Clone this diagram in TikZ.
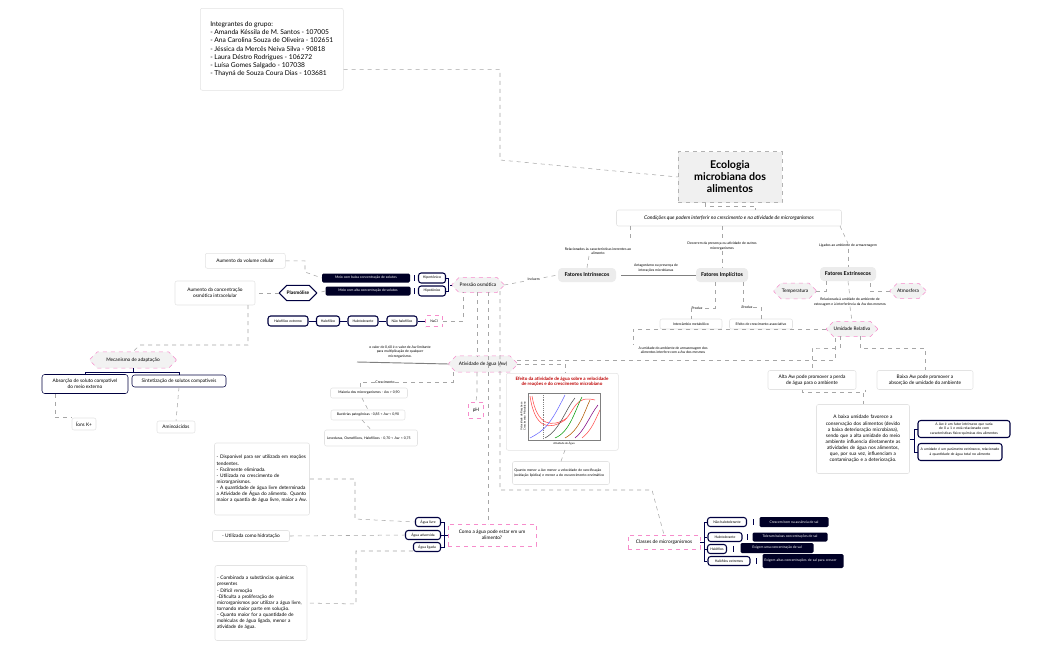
\documentclass[tikz,border=0pt]{standalone}
\usepackage{fontspec}
\setmainfont{Lato}
\usetikzlibrary{shapes.misc,calc}
\hyphenpenalty=10000
\begin{document}
\begin{tikzpicture}[x=0.75pt,y=-0.75pt,
 wh/.style 2 args={minimum width=#1*0.75pt,minimum height=#2*0.75pt},
 ft/.style={font=\fontsize{3.6pt}{4.6pt}\selectfont},
 fs/.style={font=\fontsize{2.6pt}{3.2pt}\selectfont},
 box/.style={draw=gray!22,fill=white,rounded corners=1.5pt,inner sep=1pt,align=center,ft},
 pk/.style={chamfered rectangle,chamfered rectangle xsep=2pt,draw=magenta!45,dashed,fill=gray!10,inner sep=1pt,ft},
 pkb/.style={draw=magenta!45,dashed,fill=white,inner sep=1pt,align=center,ft},
 fat/.style={fill=gray!15,rounded corners=3pt,inner sep=1pt,font=\fontsize{4pt}{5pt}\selectfont\bfseries},
 dk/.style={fill=black!85!blue,text=white,rounded corners=1pt,inner sep=1pt,align=center,fs},
 ol/.style={draw=black!75!blue,thick,rounded corners=2pt,fill=white,inner sep=1pt,align=center,fs},
 lb/.style={fs,align=center,fill=white,inner sep=0.5pt},
 c/.style={draw=gray!70,dashed,line width=0.4pt},
 s/.style={draw=black!70!blue,line width=0.5pt}]
\useasboundingbox (0,0) rectangle (1050,650);
\fill[white] (0,0) rectangle (1050,650);
% members and title
\node[box,wh={143}{82},anchor=north west,align=left,font=\rmfamily\fontsize{5pt}{6.2pt}\selectfont,inner sep=2.5pt] (mem) at (200,8) {Integrantes do grupo:\\- Amanda Késsila de M. Santos - 107005\\- Ana Carolina Souza de Oliveira - 102651\\- Jéssica da Mercês Neiva Silva - 90818\\- Laura Déstro Rodrigues - 106272\\- Luísa Gomes Salgado - 107038\\- Thayná de Souza Coura Dias - 103681};
\node[draw=gray!60,dashed,fill=gray!12,wh={104}{51},align=center,font=\rmfamily\bfseries\fontsize{8pt}{9pt}\selectfont] (tit) at (730,177) {Ecologia\\microbiana dos\\alimentos};
\draw[c] (mem.east) ++(0,20) -| (500,160) -- (tit.west);
\node[box,wh={225}{16},font=\itshape\fontsize{3.8pt}{4.6pt}\selectfont] (cond) at (729,218) {Condições que podem interferir no crescimento e na atividade de microrganismos};
\draw[c] (tit.south) ++(-25,0) -- ++(0,3) -| ([xshift=20pt]cond.north);
% fatores
\node[fat,wh={58}{14}] (fi) at (587,275) {Fatores Intrínsecos};
\node[fat,wh={52}{14}] (fim) at (722,275) {Fatores Implícitos};
\node[fat,wh={56}{14}] (fe) at (848,274) {Fatores Extrínsecos};
\node[lb] (l1) at (598,251) {Relacionados às características inerentes ao\\alimento};
\node[lb] (l2) at (722,246) {Decorrem da presença ou atividade de outros\\microrganismos};
\node[lb] (l3) at (848,246) {Ligados ao ambiente de armazenagem};
\draw[c] (630,226) -- (630,240); \draw[c] (589,256)--(fi.north);
\draw[c] (722,226) -- (l2.north); \draw[c] (l2.south)--(fim.north);
\draw[c] (840,226) -- (l3.north); \draw[c] (l3.south)--(fe.north);
\draw[gray,line width=0.6pt] (fi.east)++(5,0) -- (fim.west);
\node[lb,fill=none] at (656,268) {Antagonismo ou presença de\\interações microbianas};
\node[lb] (p1) at (697,308) {Produz};
\node[lb] (p2) at (747,307) {Produz};
\node[box,wh={62}{10},fs] (i1) at (691,324) {Intercâmbio metabólico};
\node[box,wh={63}{10},fs] (i2) at (761,324) {Efeito de crescimento associativo};
\draw[c] (715,282) |- (p1.east); \draw[c] (p1.west) -| (i1.north);
\draw[c] (743,282) |- (p2.west); \draw[c] (p2.east) -| (i2.north);
% extrinsecos
\node[pk,wh={42}{12}] (tem) at (795,291) {Temperatura};
\node[pk,wh={36}{12}] (atm) at (908,291) {Atmosfera};
\draw[c] (tem.east) -| (826,281); \draw[c] (atm.west) -| (870,281);
\node[lb] (lu) at (850,302) {Relacionada à umidade do ambiente de\\estocagem e à interferência da Aw dos mesmos};
\node[pk,wh={51}{12}] (ur) at (852,329) {Umidade Relativa};
\draw[c] (fe.south) -- (lu.north); \draw[c] (lu.south) -- (ur.north);
\node[box,wh={88}{19}] (alta) at (812,380) {Alta Aw pode promover a perda\\de água para o ambiente};
\node[box,wh={96}{19}] (baixa) at (925,380) {Baixa Aw pode promover a\\absorção de umidade do ambiente};
\draw[c] (840,336) |- (817,348) -| (alta.north);
\draw[c] (860,336) |- (893,348) -| (baixa.north);
\node[box,wh={93}{69},text width=64pt] (big) at (863,439) {A baixa umidade favorece a conservação dos alimentos (devido a baixa deterioração microbiana), sendo que a alta umidade do meio ambiente influencia diretamente as atividades de água nos alimentos, que, por sua vez, influenciam a contaminação e a deterioração.};
\draw[c] (alta.south) ++(-10,0) -- ++(0,2) -| (big.north); \draw[c] (baixa.south) ++(-60,0) -- ++(0,2);
\node[ol,wh={92}{17},text width=66pt] (r1) at (964,429) {A Aw é um fator intrínseco que varia de 0 a 1 e está relacionado com características físico-químicas dos alimentos};
\node[ol,wh={84}{17},text width=60pt] (r2) at (960,452) {A umidade é um parâmetro extrínseco, relacionado à quantidade de água total no alimento};
\draw[s] (910,439) -- (914,439); \draw[s] (918,429) -| (914,452) -- (918,452);
% link umidade -> aw text
\draw[c] (ur.west) -| (633,345);
\node[lb,fill=none] at (673,350) {A umidade do ambiente de armazenagem dos\\alimentos interfere com a Aw dos mesmos};
% pressao osmotica
\node[pk,wh={52}{13}] (po) at (478,285) {Pressão osmótica};
\draw[c] (po.east) -- (fi.west) node[lb,pos=0.55] {Incluem};
\node[ol,wh={27}{10}] (hip) at (432,278) {Hipertônico};
\node[ol,wh={27}{10}] (hipo) at (432,291) {Hipotônico};
\draw[s] (po.west) -- (450,285); \draw[s] (hip.east) -| (448,291) -- (hipo.east);
\node[dk,wh={88}{9}] (d1) at (366,278) {Meio com baixa concentração de solutos};
\node[dk,wh={85}{9}] (d2) at (368,291) {Meio com alta concentração de solutos};
\draw[s] (d1.east) ++(4,-3) -- ++(0,6); \draw[s] (d2.east) ++(4,-3) -- ++(0,6);
\node[box,wh={80}{15},anchor=north west] (avc) at (205,253) {Aumento do volume celular};
\draw[c] (avc.east) -| (305,272) -- (d1.west);
\node[chamfered rectangle,chamfered rectangle xsep=2pt,draw=black!75!blue,thick,fill=white,inner sep=1pt,font=\fontsize{3.6pt}{4.6pt}\selectfont\bfseries,wh={37}{11}] (pla) at (298,293) {Plasmólise};
\draw[c] (d2.west) -- (pla.east);
\node[box,wh={80}{24}] (aco) at (215,293) {Aumento da concentração\\osmótica intracelular};
\draw[c] (pla.west) -- (aco.east);
\node[ol,wh={40}{10}] (h1) at (288,321) {Halofílico extremo};
\node[ol,wh={23}{10}] (h2) at (328,321) {Halofílico};
\node[ol,wh={30}{10}] (h3) at (363,321) {Halotolerante};
\node[ol,wh={30}{10}] (h4) at (402,321) {Não halofílico};
\node[pkb,wh={17}{11},fs] (na) at (434,321) {NaCl};
\draw[s] (h1)--(h2)--(h3)--(h4)--(na);
\draw[c] (na.east) -| (463,292);
% mecanismo
\node[pk,wh={86}{12}] (mec) at (133,360) {Mecanismo de adaptação};
\draw[c] (248,305) |- (140,345) -- (mec.north);
\node[ol,wh={86}{19},ft,thin] (abs) at (85,384) {Absorção de soluto compatível\\do meio externo};
\node[ol,wh={94}{12},ft,thin] (sin) at (179,381) {Sintetização de solutos compatíveis};
\draw[s,thin] (85,375) -- (85,372) -| (179,375); \draw[s,thin] (mec.south) -- (133,372);
\node[box,wh={24}{12}] (ion) at (84,424) {Íons K+};
\node[box,wh={38}{12}] (ami) at (176,427) {Aminoácidos};
\draw[c] (abs.south) ++(-30,0) |- (ion.north west); \draw[c] (sin.south) -- (ami.north);
% atividade de agua
\node[pk,wh={68}{14}] (aw) at (483,364) {Atividade de água (Aw)};
\draw[c] (477,292) -- (477,357);
\node[lb,fill=none] at (400,352) {o valor de 0,60 é o valor de Aw limitante\\para multiplicação de qualquer\\microrganismo.};
\draw[gray,line width=0.7pt] (357,362) -- (aw.west);
\node[box,wh={77}{10},fs] (g1) at (369,393) {Maioria dos microrganismos - Aw > 0,90};
\node[box,wh={74}{10},fs] (g2) at (368,415) {Bactérias patogênicas - 0,85 < Aw < 0,90};
\node[box,wh={93}{16},fs,text width=66pt,align=left] (g3) at (371,438) {Leveduras, Osmofílicos, Halofílicos - 0,70 < Aw < 0,75};
\draw[c] (aw.south) ++(-30,0) |- (360,382) -- (360,388);
\node[lb] at (385,382) {Crescimento};
\draw[c] (362,398) -- (g2.north); \draw[c] (362,420) -- (g3.north);
\node[pkb,wh={15}{16}] (ph) at (476,410) {pH};
\draw[c] (aw.south) ++(-6,0) |- ++(0,20) -- (ph.north);
% plot
\node[box,wh={112}{77},anchor=north west] (plot) at (506,373) {};
\node[text=red!75!black,font=\bfseries\fontsize{3.4pt}{4pt}\selectfont,align=center] at (562,382) {Efeito da atividade de água sobre a velocidade\\de reações e do crescimento microbiano};
\draw[gray] (528,393) rectangle (600,440);
\node[rotate=90,font=\fontsize{2pt}{2.4pt}\selectfont,align=center] at (523,416) {Velocidade de Reações e\\Crescimento Microbiano};
\node[font=\fontsize{2pt}{2.4pt}\selectfont] at (564,444) {Atividade de Água};
\draw[gray,densely dotted] (543,393) -- (543,440);
\draw[red!70,thin] (530,396) .. controls (535,430) and (550,430) .. (565,420) .. controls (575,410) and (575,395) .. (595,400);
\draw[red!70,thin] (532,396) .. controls (537,426) and (552,428) .. (567,418);
\draw[blue!60,thin] (530,438) .. controls (545,430) and (550,425) .. (565,395);
\draw[black!70,thin] (545,438) .. controls (560,430) and (565,410) .. (575,398);
\draw[green!60!black,thin] (555,438) .. controls (570,432) and (575,410) .. (582,397);
\draw[orange!70!black,thin] (565,438) .. controls (580,430) and (585,410) .. (590,400);
\draw[violet,thin] (575,438) .. controls (585,430) and (590,415) .. (598,405);
\draw[red!70,thin] (582,438) .. controls (592,430) and (595,420) .. (600,410);
\draw[c] (aw.east) -| (565,373);
\node[box,wh={97}{23},fs,text width=70pt,align=left] (qm) at (561,473) {Quanto menor a Aw menor a velocidade de rancificação (oxidação lipídica) e menor a do escurecimento enzimático};
\draw[c] (565,450) -- (qm.north);
\draw[c] (aw.east) ++(0,-4) -- (835,360) -- (835,335);
% agua
\node[pkb,wh={88}{22}] (como) at (492,535) {Como a água pode estar em um\\alimento?};
\node[ol,wh={25}{9}] (al) at (428,522) {Água livre};
\node[ol,wh={35}{9}] (aad) at (423,535) {Água adsorvida};
\node[ol,wh={27}{9}] (alg) at (427,547) {Água ligada};
\draw[s] (como.west) -- (444,535); \draw[s] (al.east) -| (444,547) -- (alg.east); \draw[s] (aad.east) -- (444,535);
\draw[c] (488,292) -- (488,524);
\node[box,wh={95}{72},text width=68pt,align=left] (t1) at (262,479) {- Disponível para ser utilizada em reações tendentes.\\- Facilmente eliminada.\\- Utilizada no crescimento de microrganismos.\\- A quantidade de água livre determinada a Atividade de Água do alimento. Quanto maior a quantia de água livre, maior a Aw.};
\node[box,wh={77}{11}] (t2) at (251,536) {- Utilizada como hidratação};
\node[box,wh={92}{75},text width=66pt,align=left] (t3) at (261,603) {- Combinada a substâncias químicas presentes\\- Difícil remoção\\-Dificulta a proliferação de microrganismos por utilizar a água livre, tornando maior parte em solução.\\- Quanto maior for a quantidade de moléculas de água ligada, menor a atividade de água.};
\draw[c] (t1.east) -| (355,519) -- (al.west);
\draw[c] (t2.east) -- (aad.west);
\draw[c] (alg.west) ++(0,4) -| (356,604) -- (t3.east);
% classes
\node[pkb,wh={72}{14}] (cla) at (664,542) {Classes de microrganismos};
\draw[c] (500,291) -- (500,490) -- (652,490) -- (cla.north);
\node[ol,wh={39}{9}] (k1) at (727,522) {Não halotolerante};
\node[ol,wh={34}{9}] (k2) at (725,537) {Halotolerante};
\node[ol,wh={19}{9}] (k3) at (717,549) {Halófilos};
\node[ol,wh={42}{9}] (k4) at (729,561) {Halófilos extremos};
\draw[s] (cla.east) -- (704,542); \draw[s] (k1.west) -| (704,561) -- (k4.west); \draw[s] (k2.west) -- (704,537); \draw[s] (k3.west) -- (704,549);
\node[dk,wh={69}{10}] (e1) at (794,522) {Crescem bem na ausência de sal};
\node[dk,wh={75}{9}] (e2) at (790,537) {Toleram baixas concentrações de sal};
\node[dk,wh={73}{10}] (e3) at (777,548) {Exigem uma concentração de sal};
\node[dk,wh={81}{14},text width=58pt,align=left] (e4) at (803,561) {Exigem altas concentrações de sal para crescer};
\foreach \a/\b in {k1/e1,k2/e2,k3/e3,k4/e4}{\draw[s] ($(\a.east)!0.5!(\b.west)$) ++(0,-3) -- ++(0,6);}
\end{tikzpicture}
\end{document}
